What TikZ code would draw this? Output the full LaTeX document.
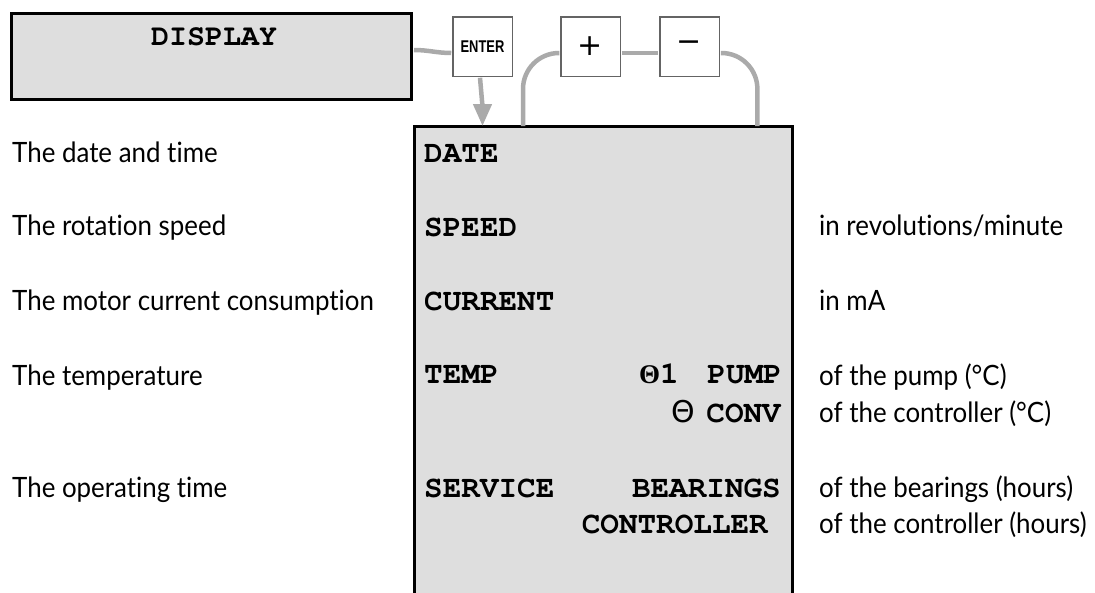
\documentclass[tikz,border=0pt]{standalone}
\usepackage[T1]{fontenc}
\usepackage{fontspec}
\usepackage{graphicx}
\usetikzlibrary{arrows.meta,calc}
\newfontfamily\lblfont{Lato}[FakeStretch=0.925,Ligatures=NoCommon]
\newfontfamily\symfont{DejaVu Sans}
\newfontfamily\thetaserif{Liberation Serif}
\newfontfamily\btnfont{Liberation Sans}
\newcommand\courb{\fontencoding{T1}\fontfamily{pcr}\fontseries{b}\fontshape{n}\selectfont}
\definecolor{boxgray}{RGB}{222,222,222}
\definecolor{conngray}{RGB}{170,170,170}
\definecolor{btnborder}{RGB}{100,100,100}
\tikzset{
  lbl/.style={font=\lblfont\fontsize{28}{32}\selectfont, anchor=base west, inner sep=0pt},
  mono/.style={font=\courb\fontsize{31}{36}\selectfont, inner sep=0pt},
  conn/.style={draw=conngray, line width=4.5pt},
  btn/.style={draw=btnborder, line width=1.5pt, fill=white, minimum width=59.5pt, minimum height=59.5pt, inner sep=0pt},
  frame/.style={draw=black, line width=3pt},
}
\begin{document}
\begin{tikzpicture}[x=1pt,y=-1pt]
\useasboundingbox (0,0) rectangle (1095,592);
% display
\node[frame, fill=boxgray, minimum width=400pt, minimum height=86pt, inner sep=0pt] (display) at (211,56) {};
\node[mono, font=\courb\fontsize{30}{34}\selectfont, anchor=base] (disptext) at (214,45) {DISPLAY};
% buttons
\node[btn] (enter) at (482.5,46.5) {\btnfont\bfseries\fontsize{17}{20}\selectfont\scalebox{0.76}[1]{ENTER}};
\node[btn] (plus) at (590.5,46.5) {\symfont\fontsize{30}{34}\selectfont +};
\node[btn] (minus) at (689.5,46.5) {\symfont\fontsize{30}{34}\selectfont −};
% big box
\node[fill=boxgray, minimum width=378pt, minimum height=480pt, anchor=north west, inner sep=0pt] (bigbox) at (414,126) {};
\draw[frame] (bigbox.south west) -- (bigbox.north west) -- (bigbox.north east) -- (bigbox.south east);
% connectors
\coordinate (lb) at ([xshift=109pt]bigbox.north west);
\coordinate (rb) at ([xshift=-35pt]bigbox.north east);
\draw[conn] ([xshift=1.5pt,yshift=6pt]display.east) to[out=0,in=180] ([xshift=-0.75pt,yshift=-6.5pt]enter.west);
\draw[conn, -{Triangle[length=22pt,width=18pt]}] ([xshift=-2.5pt,yshift=-0.75pt]enter.south) to[out=-85,in=90] (enter.south |- bigbox.north);
\draw[conn] ([xshift=0.75pt,yshift=-6.5pt]plus.east) -- ([xshift=-0.75pt,yshift=-6.5pt]minus.west);
\draw[conn, rounded corners=36pt] ([xshift=-0.75pt,yshift=-6.5pt]plus.west) -| (lb);
\draw[conn, rounded corners=36pt] ([xshift=0.75pt,yshift=-6.5pt]minus.east) -| (rb);
% left labels
\node[lbl] (l1) at (12,162) {The date and time};
\node[lbl] (l2) at (12,235) {The rotation speed};
\node[lbl] (l3) at (12,310) {The motor current consumption};
\node[lbl] (l4) at (12,385) {The temperature};
\node[lbl] (l5) at (12,497) {The operating time};
% box contents
\node[mono, anchor=base west] (m1) at (424,162) {DATE};
\node[mono, anchor=base west] (m2) at (424,236) {SPEED};
\node[mono, anchor=base west] (m3) at (424,310) {CURRENT};
\node[mono, anchor=base west] (m4) at (424,383) {TEMP};
\node[mono, anchor=base west] (th1) at (639,383) {{\thetaserif\bfseries\fontsize{27}{30}\selectfont Θ}1};
\node[mono, anchor=base east] (pump) at (782,383) {PUMP};
\node[mono, anchor=base west] (th2) at (671,422) {\symfont\mdseries\fontsize{30}{32}\selectfont Θ};
\node[mono, anchor=base east] (conv) at (781,422) {CONV};
\node[mono, anchor=base west] (m5) at (424,497) {SERVICE};
\node[mono, anchor=base east] (bear) at (781,497) {BEARINGS};
\node[mono, anchor=base east] (ctrl) at (768,533) {CONTROLLER};
% right labels
\node[lbl] (r1) at (819,235) {in revolutions/minute};
\node[lbl] (r2) at (819,310) {in mA};
\node[lbl] (r3) at (819,385) {of the pump (°C)};
\node[lbl] (r4) at (819,422) {of the controller (°C)};
\node[lbl] (r5) at (819,497) {of the bearings (hours)};
\node[lbl] (r6) at (819,533) {of the controller (hours)};
\end{tikzpicture}
\end{document}
